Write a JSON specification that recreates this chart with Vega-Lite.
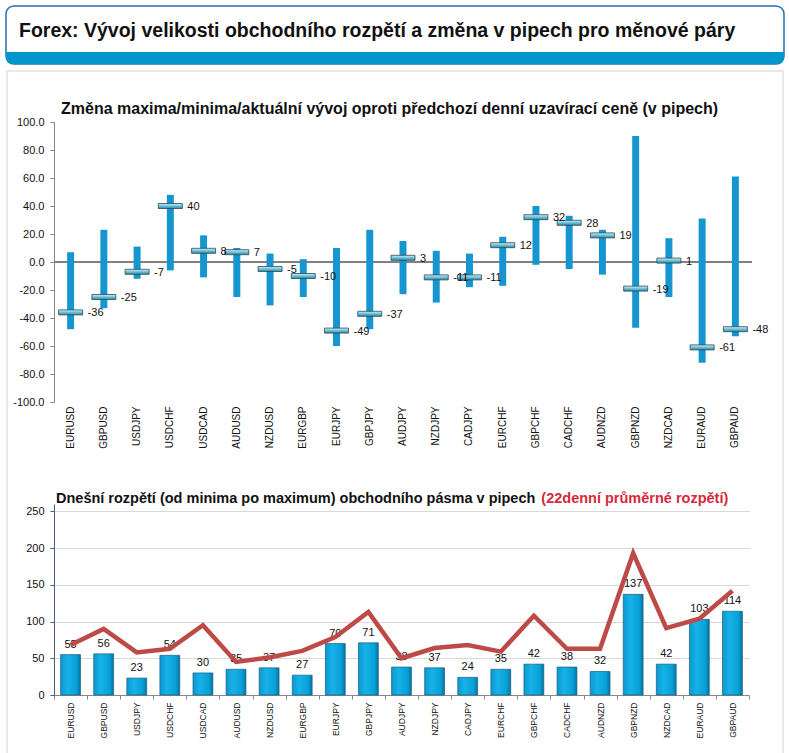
{
  "$schema": "https://vega.github.io/schema/vega-lite/v6.json",
  "padding": {"left": 5, "top": 5, "right": 5, "bottom": 2},
  "background": "white",
  "config": {
    "font": "Liberation Sans",
    "view": {"stroke": null},
    "locale": {"number": {"decimal": ".", "thousands": ",", "grouping": [3], "currency": ["$", ""], "minus": "-"}}
  },
  "datasets": {
    "pairs": [
      {"pair": "EURUSD", "high": 7, "low": -48, "cur": -36, "range": 55, "avg": 68},
      {"pair": "GBPUSD", "high": 23, "low": -33, "cur": -25, "range": 56, "avg": 90},
      {"pair": "USDJPY", "high": 11, "low": -12, "cur": -7, "range": 23, "avg": 58},
      {"pair": "USDCHF", "high": 48, "low": -6, "cur": 40, "range": 54, "avg": 63},
      {"pair": "USDCAD", "high": 19, "low": -11, "cur": 8, "range": 30, "avg": 95},
      {"pair": "AUDUSD", "high": 10, "low": -25, "cur": 7, "range": 35, "avg": 45},
      {"pair": "NZDUSD", "high": 6, "low": -31, "cur": -5, "range": 37, "avg": 51},
      {"pair": "EURGBP", "high": 2, "low": -25, "cur": -10, "range": 27, "avg": 60},
      {"pair": "EURJPY", "high": 10, "low": -60, "cur": -49, "range": 70, "avg": 79},
      {"pair": "GBPJPY", "high": 23, "low": -48, "cur": -37, "range": 71, "avg": 113},
      {"pair": "AUDJPY", "high": 15, "low": -23, "cur": 3, "range": 38, "avg": 50},
      {"pair": "NZDJPY", "high": 8, "low": -29, "cur": -11, "range": 37, "avg": 64},
      {"pair": "CADJPY", "high": 6, "low": -18, "cur": -11, "range": 24, "avg": 68},
      {"pair": "EURCHF", "high": 18, "low": -17, "cur": 12, "range": 35, "avg": 59},
      {"pair": "GBPCHF", "high": 40, "low": -2, "cur": 32, "range": 42, "avg": 108},
      {"pair": "CADCHF", "high": 33, "low": -5, "cur": 28, "range": 38, "avg": 63},
      {"pair": "AUDNZD", "high": 23, "low": -9, "cur": 19, "range": 32, "avg": 63},
      {"pair": "GBPNZD", "high": 90, "low": -47, "cur": -19, "range": 137, "avg": 193},
      {"pair": "NZDCAD", "high": 17, "low": -25, "cur": 1, "range": 42, "avg": 91},
      {"pair": "EURAUD", "high": 31, "low": -72, "cur": -61, "range": 103, "avg": 104},
      {"pair": "GBPAUD", "high": 61, "low": -53, "cur": -48, "range": 114, "avg": 142}
    ]
  },
  "bounds": "flush",
  "spacing": 102,
  "vconcat": [
    {
      "width": 730,
      "height": 14,
      "data": {"values": [{"label": "Forex: Vývoj velikosti obchodního rozpětí a změna v pipech pro měnové páry"}]},
      "layer": [
        {
          "mark": {"type": "rule", "color": "#d2d2d2", "strokeWidth": 1, "clip": false},
          "encoding": {
            "x": {"datum": -47, "type": "quantitative", "scale": {"domain": [0, 730], "nice": false, "zero": false}, "axis": null},
            "y": {"datum": -51, "type": "quantitative", "scale": {"domain": [0, 14], "nice": false, "zero": false}, "axis": null},
            "y2": {"datum": -746}
          }
        },
        {
          "mark": {"type": "rule", "color": "#d2d2d2", "strokeWidth": 1, "clip": false},
          "encoding": {
            "x": {"datum": 729, "type": "quantitative"},
            "y": {"datum": -51, "type": "quantitative"},
            "y2": {"datum": -746}
          }
        },
        {
          "mark": {"type": "rule", "color": "#d2d2d2", "strokeWidth": 1, "clip": false},
          "encoding": {
            "x": {"datum": -47, "type": "quantitative"},
            "x2": {"datum": 729},
            "y": {"datum": -51, "type": "quantitative"}
          }
        },
        {
          "mark": {"type": "rect", "fill": "white", "stroke": "#2371aa", "strokeWidth": 1.5, "cornerRadius": 8, "clip": false},
          "encoding": {
            "x": {"datum": -48, "type": "quantitative"},
            "x2": {"datum": 730},
            "y": {"datum": 14, "type": "quantitative"},
            "y2": {"datum": -44}
          }
        },
        {
          "mark": {"type": "rect", "fill": "#0096cc", "cornerRadiusBottomLeft": 7, "cornerRadiusBottomRight": 7, "clip": false},
          "encoding": {
            "x": {"datum": -48, "type": "quantitative"},
            "x2": {"datum": 730},
            "y": {"datum": -44, "type": "quantitative"},
            "y2": {"datum": -32}
          }
        },
        {
          "mark": {"type": "text", "align": "left", "baseline": "alphabetic", "fontSize": 19.5, "fontWeight": "bold", "color": "#111111"},
          "encoding": {
            "x": {"datum": -35, "type": "quantitative"},
            "y": {"datum": -16.7, "type": "quantitative"},
            "text": {"field": "label", "type": "nominal"}
          }
        }
      ]
    },
    {
      "width": 698,
      "height": 280,
      "layer": [
        {
          "data": {"name": "pairs"},
          "mark": {"type": "rule", "color": "#808080", "strokeWidth": 1},
          "encoding": {
            "y": {"datum": 0, "type": "quantitative", "scale": {"domain": [-100, 100]},
              "axis": {"title": null, "values": [-100, -80, -60, -40, -20, 0, 20, 40, 60, 80, 100], "tickCount": 11, "format": ".1f",
                "labelOverlap": false, "labelFontSize": 11, "labelColor": "#111111", "gridColor": "#d9d9d9",
                "domainColor": "#868686", "tickColor": "#868686", "tickSize": 4, "labelPadding": 6, "minExtent": 48}}
          }
        },
        {
          "data": {"name": "pairs"},
          "mark": {"type": "bar", "color": "#1596d0", "width": {"band": 0.21}},
          "encoding": {
            "x": {"field": "pair", "type": "nominal", "sort": null,
              "scale": {"paddingInner": 0, "paddingOuter": 0,
                "domain": ["EURUSD", "GBPUSD", "USDJPY", "USDCHF", "USDCAD", "AUDUSD", "NZDUSD", "EURGBP", "EURJPY", "GBPJPY", "AUDJPY", "NZDJPY", "CADJPY", "EURCHF", "GBPCHF", "CADCHF", "AUDNZD", "GBPNZD", "NZDCAD", "EURAUD", "GBPAUD"]},
              "axis": {"title": null, "labelAngle": -90, "labelFontSize": 10, "labelPadding": 4, "ticks": false,
                "domain": false, "labelColor": "#111111", "labelOverlap": false}},
            "y": {"field": "low", "type": "quantitative", "title": null},
            "y2": {"field": "high"}
          }
        },
        {
          "data": {"name": "pairs"},
          "mark": {"type": "tick", "size": 24, "thickness": 5, "stroke": "#34454c", "strokeWidth": 0.8,
            "fill": {"gradient": "linear", "x1": 0, "y1": 0, "x2": 0, "y2": 1,
              "stops": [{"offset": 0, "color": "#d6f1f9"}, {"offset": 0.45, "color": "#72c6de"}, {"offset": 1, "color": "#2a8aaa"}]},
            "opacity": 1},
          "encoding": {
            "x": {"field": "pair", "type": "nominal", "sort": null, "title": null},
            "y": {"field": "cur", "type": "quantitative", "title": null}
          }
        },
        {
          "data": {"name": "pairs"},
          "mark": {"type": "text", "align": "left", "baseline": "middle", "dx": 17, "dy": 1, "fontSize": 11, "color": "#111111"},
          "encoding": {
            "x": {"field": "pair", "type": "nominal", "sort": null, "title": null},
            "y": {"field": "cur", "type": "quantitative", "title": null},
            "text": {"field": "cur", "type": "quantitative", "format": ".0f"}
          }
        },
        {
          "data": {"values": [{"label": "Změna maxima/minima/aktuální vývoj oproti předchozí denní uzavírací ceně (v pipech)"}]},
          "mark": {"type": "text", "align": "left", "baseline": "alphabetic", "dx": 7, "dy": -8, "fontSize": 16, "fontWeight": "bold", "color": "#111111"},
          "encoding": {
            "x": {"datum": "EURUSD", "bandPosition": 0},
            "y": {"datum": 100, "type": "quantitative"},
            "text": {"field": "label", "type": "nominal"}
          }
        }
      ]
    },
    {
      "width": 695,
      "height": 191,
      "layer": [
        {
          "data": {"name": "pairs"},
          "mark": {"type": "bar", "stroke": "#17607f", "strokeWidth": 0.7, "width": {"band": 0.6},
            "fill": {"gradient": "linear", "x1": 0, "y1": 0, "x2": 1, "y2": 0,
              "stops": [{"offset": 0, "color": "#0b98cf"}, {"offset": 0.35, "color": "#17b2e8"}, {"offset": 0.8, "color": "#07a0d8"}, {"offset": 1, "color": "#06739f"}]}},
          "encoding": {
            "x": {"field": "pair", "type": "nominal", "sort": null,
              "scale": {"paddingInner": 0, "paddingOuter": 0,
                "domain": ["EURUSD", "GBPUSD", "USDJPY", "USDCHF", "USDCAD", "AUDUSD", "NZDUSD", "EURGBP", "EURJPY", "GBPJPY", "AUDJPY", "NZDJPY", "CADJPY", "EURCHF", "GBPCHF", "CADCHF", "AUDNZD", "GBPNZD", "NZDCAD", "EURAUD", "GBPAUD"]},
              "axis": {"title": null, "labelAngle": -90, "labelFontSize": 8.5, "labelPadding": 3, "tickBand": "extent",
                "tickSize": 4, "domainColor": "#888888", "tickColor": "#888888", "labelColor": "#111111", "labelOverlap": false}},
            "y": {"field": "range", "type": "quantitative", "title": null, "scale": {"domain": [0, 250]},
              "axis": {"title": null, "values": [0, 50, 100, 150, 200, 250], "tickCount": 6, "labelOverlap": false, "labelFontSize": 11,
                "labelColor": "#111111", "gridColor": "#d9d9d9", "domainColor": "#44607e", "tickColor": "#44607e",
                "tickSize": 4, "labelPadding": 6, "minExtent": 48}}
          }
        },
        {
          "data": {"name": "pairs"},
          "mark": {"type": "text", "baseline": "alphabetic", "dy": -7, "fontSize": 11, "color": "#111111"},
          "encoding": {
            "x": {"field": "pair", "type": "nominal", "sort": null, "title": null},
            "y": {"field": "range", "type": "quantitative", "title": null},
            "text": {"field": "range", "type": "quantitative", "format": ".0f"}
          }
        },
        {
          "data": {"name": "pairs"},
          "mark": {"type": "line", "color": "#bd4a47", "strokeWidth": 4.5},
          "encoding": {
            "x": {"field": "pair", "type": "nominal", "sort": null, "title": null},
            "y": {"field": "avg", "type": "quantitative", "title": null}
          }
        },
        {
          "data": {"values": [{"label": "Dnešní rozpětí (od minima po maximum) obchodního pásma v pipech"}]},
          "mark": {"type": "text", "align": "left", "baseline": "alphabetic", "dx": 2, "dy": -8, "fontSize": 14.5, "fontWeight": "bold", "color": "#111111"},
          "encoding": {
            "x": {"datum": "EURUSD", "bandPosition": 0},
            "y": {"datum": 250, "type": "quantitative"},
            "text": {"field": "label", "type": "nominal"}
          }
        },
        {
          "data": {"values": [{"label": "(22denní průměrné rozpětí)"}]},
          "mark": {"type": "text", "align": "left", "baseline": "alphabetic", "dx": 24, "dy": -8, "fontSize": 14.5, "fontWeight": "bold", "color": "#d42a3a"},
          "encoding": {
            "x": {"datum": "GBPCHF", "bandPosition": 0},
            "y": {"datum": 250, "type": "quantitative"},
            "text": {"field": "label", "type": "nominal"}
          }
        }
      ]
    }
  ]
}
